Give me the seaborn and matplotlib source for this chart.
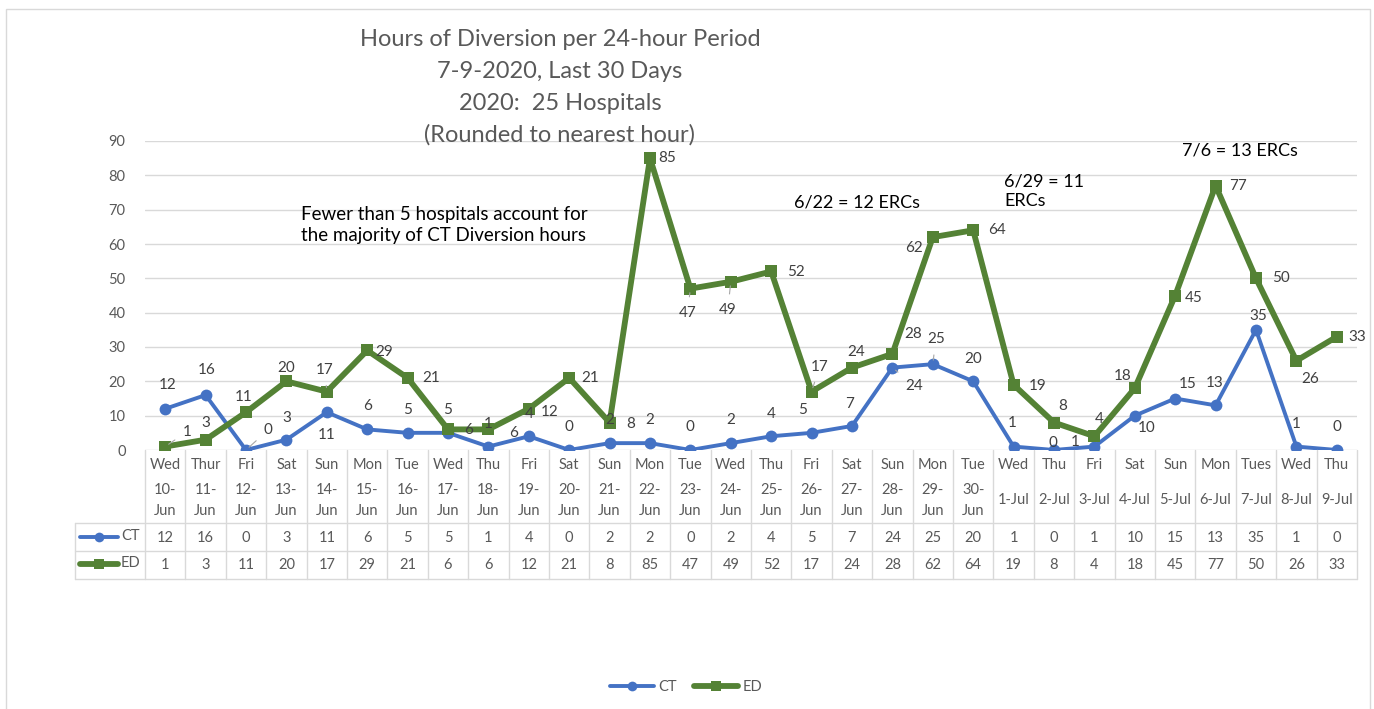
import numpy as np
import pandas as pd
import matplotlib
matplotlib.use("Agg")
import matplotlib.pyplot as plt
from matplotlib.lines import Line2D
from matplotlib.patches import Rectangle
import seaborn as sns

# --- data ---
days = ["Wed", "Thur", "Fri", "Sat", "Sun", "Mon", "Tue", "Wed", "Thu", "Fri",
        "Sat", "Sun", "Mon", "Tue", "Wed", "Thu", "Fri", "Sat", "Sun", "Mon",
        "Tue", "Wed", "Thu", "Fri", "Sat", "Sun", "Mon", "Tues", "Wed", "Thu"]
dates = ["10-Jun", "11-Jun", "12-Jun", "13-Jun", "14-Jun", "15-Jun", "16-Jun",
         "17-Jun", "18-Jun", "19-Jun", "20-Jun", "21-Jun", "22-Jun", "23-Jun",
         "24-Jun", "25-Jun", "26-Jun", "27-Jun", "28-Jun", "29-Jun", "30-Jun",
         "1-Jul", "2-Jul", "3-Jul", "4-Jul", "5-Jul", "6-Jul", "7-Jul", "8-Jul", "9-Jul"]
ct = [12, 16, 0, 3, 11, 6, 5, 5, 1, 4, 0, 2, 2, 0, 2, 4, 5, 7, 24, 25, 20,
      1, 0, 1, 10, 15, 13, 35, 1, 0]
ed = [1, 3, 11, 20, 17, 29, 21, 6, 6, 12, 21, 8, 85, 47, 49, 52, 17, 24, 28, 62, 64,
      19, 8, 4, 18, 45, 77, 50, 26, 33]

title_lines = ["Hours of Diversion per 24-hour Period", "7-9-2020, Last 30 Days",
               "2020:  25 Hospitals", "(Rounded to nearest hour)"]

# label offsets in pixels (dx, dy) and whether a leader line is drawn
ct_offsets = [(2, 24), (1, 25), (22, 20), (0, 22), (0, -23), (0, 23), (0, 23), (0, 23),
              (0, 23), (0, 22), (0, 23), (0, 23), (0, 23), (0, 23), (0, 23), (0, 22),
              (-9, 23), (-2, 22), (22, -18), (3, 25), (0, 22), (-1, 24), (-1, 7),
              (-19, 5), (12, -12), (12, 15), (-1, 22), (2, 14), (0, 23), (0, 23)]
ct_leader = {2, 18, 19}
ed_offsets = [(22, 15), (0, 17), (-2, 15), (0, 13), (-2, 22), (17, -2), (24, 0), (21, -1),
              (25, -4), (21, -3), (21, 0), (21, -1), (17, 0), (-3, -24), (-3, -28), (25, -1),
              (8, 25), (4, 16), (21, 20), (-19, -11), (24, 0), (24, -1), (9, 17), (5, 17),
              (-12, 12), (18, -2), (22, 0), (25, 0), (14, -18), (20, 0)]
ed_leader = {0, 4, 13, 14, 16}

W, H = 1374, 709
gray_txt = "#595959"
grid_col = "#d9d9d9"
ct_col = "#4472C4"
ed_col = "#548235"

sns.set_style("white")
plt.rcParams["font.family"] = ["Lato", "DejaVu Sans"]

fig = plt.figure(figsize=(W / 100, H / 100), dpi=100)
x_left, x_right, y_bot, y_top = 145, 1357, 450, 141
ax = fig.add_axes([x_left / W, 1 - y_bot / H, (x_right - x_left) / W, (y_bot - y_top) / H])

pos = np.arange(len(ct))
df = pd.DataFrame({"pos": pos, "CT": ct, "ED": ed})
sns.lineplot(data=df, x="pos", y="CT", ax=ax, color=ct_col, linewidth=2.8,
             marker="o", markersize=8.5, markeredgewidth=0, label="CT", zorder=3)
sns.lineplot(data=df, x="pos", y="ED", ax=ax, color=ed_col, linewidth=4.2,
             marker="s", markersize=8.5, markeredgewidth=0, label="ED", zorder=3)

ax.set_xlim(-0.5, len(ct) - 0.5)
ax.set_ylim(0, 90)
ax.set_yticks(range(0, 91, 10))
ax.tick_params(axis="y", colors=gray_txt, labelsize=10.5, length=0, pad=14)
ax.set_xticks([])
ax.set_xlabel("")
ax.set_ylabel("")
ax.grid(axis="y", color=grid_col, linewidth=1)
for s in ax.spines.values():
    s.set_visible(False)
ax.get_legend().remove()

# data labels
for i in range(len(ct)):
    dx, dy = ct_offsets[i]
    ap = dict(arrowstyle="-", color="#a6a6a6", lw=0.8, shrinkA=4, shrinkB=3) if i in ct_leader else None
    ax.annotate(str(ct[i]), (pos[i], ct[i]), xytext=(dx, dy), textcoords="offset pixels",
                ha="center", va="center", fontsize=11, color="#404040", arrowprops=ap, zorder=4)
for i in range(len(ed)):
    dx, dy = ed_offsets[i]
    ap = dict(arrowstyle="-", color="#a6a6a6", lw=0.8, shrinkA=4, shrinkB=3) if i in ed_leader else None
    ax.annotate(str(ed[i]), (pos[i], ed[i]), xytext=(dx, dy), textcoords="offset pixels",
                ha="center", va="center", fontsize=11, color="#404040", arrowprops=ap, zorder=4)

# title and notes (figure pixel coords)
def fx(px):
    return px / W

def fy(py):
    return 1 - py / H

for k, line in enumerate(title_lines):
    fig.text(fx(560), fy(40 + k * 31.5), line, ha="center", va="center",
             fontsize=17, color=gray_txt)

fig.text(fx(444), fy(225), "Fewer than 5 hospitals account for\nthe majority of CT Diversion hours",
         ha="center", va="center", fontsize=13.5, color="black", linespacing=1.3)
fig.text(fx(857), fy(202), "6/22 = 12 ERCs", ha="center", va="center", fontsize=13, color="black")
fig.text(fx(1004), fy(191), "6/29 = 11\nERCs", ha="left", va="center", fontsize=13,
         color="black", linespacing=1.3)
fig.text(fx(1240), fy(150), "7/6 = 13 ERCs", ha="center", va="center", fontsize=13, color="black")

# data table below the plot
col_w = (x_right - x_left) / len(ct)
tab_head_bot, ct_row_bot, ed_row_bot = 523, 551, 579
tab_left = 75
line_kw = dict(color=grid_col, linewidth=1, transform=fig.transFigure)
for yy in (tab_head_bot, ct_row_bot, ed_row_bot):
    fig.add_artist(Line2D([fx(tab_left), fx(x_right)], [fy(yy), fy(yy)], **line_kw))
fig.add_artist(Line2D([fx(tab_left), fx(tab_left)], [fy(tab_head_bot), fy(ed_row_bot)], **line_kw))
for j in range(len(ct) + 1):
    xx = x_left + j * col_w
    fig.add_artist(Line2D([fx(xx), fx(xx)], [fy(y_bot), fy(ed_row_bot)], **line_kw))

for j in range(len(ct)):
    xc = x_left + (j + 0.5) * col_w
    fig.text(fx(xc), fy(465), days[j], ha="center", va="center", fontsize=10.5, color=gray_txt)
    day, mon = dates[j].split("-")
    if mon == "Jun":
        fig.text(fx(xc), fy(490), day + "-", ha="center", va="center", fontsize=10.5, color=gray_txt)
        fig.text(fx(xc), fy(511), mon, ha="center", va="center", fontsize=10.5, color=gray_txt)
    else:
        fig.text(fx(xc), fy(500), dates[j], ha="center", va="center", fontsize=10.5, color=gray_txt)
    fig.text(fx(xc), fy(538), str(ct[j]), ha="center", va="center", fontsize=10.5, color=gray_txt)
    fig.text(fx(xc), fy(565), str(ed[j]), ha="center", va="center", fontsize=10.5, color=gray_txt)

# legend keys inside the table
fig.add_artist(Line2D([fx(80), fx(118)], [fy(537), fy(537)], color=ct_col, linewidth=2.8,
                      transform=fig.transFigure))
fig.add_artist(Line2D([fx(99)], [fy(537)], color=ct_col, marker="o", markersize=7,
                      markeredgewidth=0, transform=fig.transFigure))
fig.add_artist(Line2D([fx(80), fx(118)], [fy(564), fy(564)], color=ed_col, linewidth=4.2,
                      transform=fig.transFigure))
fig.add_artist(Line2D([fx(99)], [fy(564)], color=ed_col, marker="s", markersize=7,
                      markeredgewidth=0, transform=fig.transFigure))
fig.text(fx(121), fy(536), "CT", ha="left", va="center", fontsize=10.5, color=gray_txt)
fig.text(fx(121), fy(563), "ED", ha="left", va="center", fontsize=10.5, color=gray_txt)

# bottom legend
handles = [Line2D([], [], color=ct_col, linewidth=2.8, marker="o", markersize=7, markeredgewidth=0),
           Line2D([], [], color=ed_col, linewidth=4.2, marker="s", markersize=7, markeredgewidth=0)]
fig.legend(handles, ["CT", "ED"], loc="center", bbox_to_anchor=(fx(686), fy(687)), ncol=2,
           frameon=False, fontsize=10.5, handlelength=3, columnspacing=1.2, handletextpad=0.3,
           labelcolor=gray_txt)

# chart border
fig.add_artist(Rectangle((fx(6), fy(712)), fx(1370) - fx(6), fy(9) - fy(712), fill=False,
                         edgecolor=grid_col, linewidth=1, transform=fig.transFigure))

fig.savefig("out.png", dpi=100)
